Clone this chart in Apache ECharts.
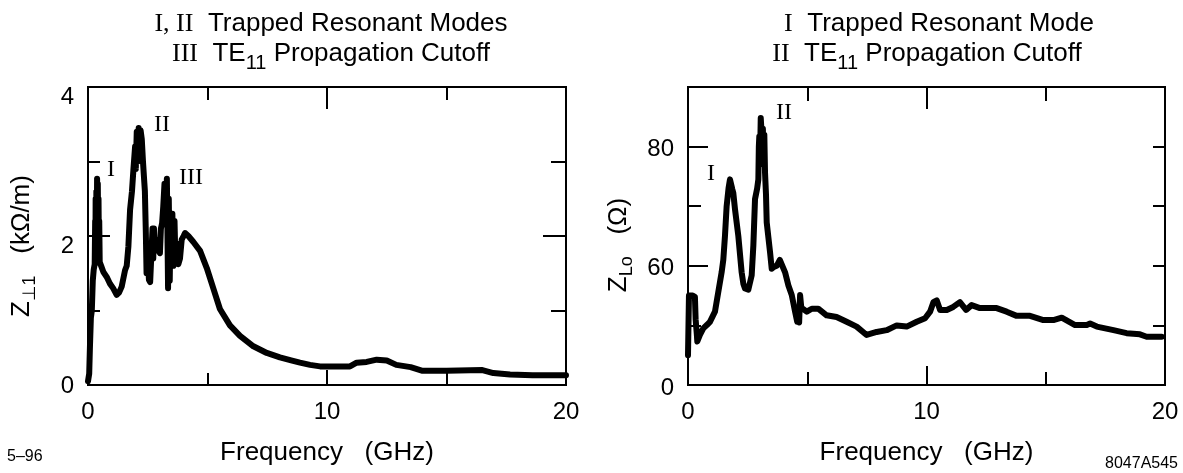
<!DOCTYPE html>
<html><head><meta charset="utf-8">
<script src="https://cdn.jsdelivr.net/npm/echarts@6/dist/echarts.min.js"></script>
<style>html,body{margin:0;padding:0;background:#fff}#c{width:1183px;height:473px}</style>
</head><body><div id="c"></div>
<script>
// Left panel: transverse impedance Z_perp1 (kOhm/m) vs frequency (GHz)
const freqT = [0.00,0.05,0.08,0.12,0.16,0.20,0.24,0.28,0.30,0.31,0.32,0.34,0.35,0.37,0.38,0.40,0.41,0.43,0.44,0.46,0.47,0.49,0.55,0.64,0.80,0.92,1.05,1.20,1.30,1.41,1.55,1.62,1.69,1.76,1.84,1.90,1.97,2.00,2.04,2.08,2.12,2.16,2.20,2.25,2.30,2.35,2.38,2.42,2.45,2.50,2.55,2.60,2.66,2.70,2.73,2.76,2.80,2.87,2.95,3.01,3.05,3.10,3.15,3.20,3.25,3.30,3.35,3.38,3.42,3.46,3.50,3.53,3.57,3.62,3.66,3.71,3.78,3.85,3.92,4.00,4.06,4.20,4.41,4.69,4.97,5.24,5.52,5.94,6.36,6.92,7.48,8.03,8.50,8.87,9.29,9.71,10.30,10.96,11.24,11.66,12.08,12.50,12.90,13.50,14.00,15.00,16.50,16.96,17.66,18.60,20.00];
const zT = [0.05,0.15,0.50,0.90,1.00,1.40,1.55,1.62,2.20,1.70,2.50,1.90,2.60,2.00,2.77,2.10,2.70,1.90,2.50,1.70,2.20,1.65,1.60,1.52,1.44,1.36,1.30,1.21,1.24,1.32,1.54,1.60,1.86,2.35,2.60,2.89,3.20,2.90,3.40,3.00,3.45,3.10,3.42,3.30,3.00,2.75,2.60,2.04,1.50,1.70,1.41,1.38,1.40,2.10,1.70,2.10,1.85,1.95,1.80,1.77,2.10,2.17,2.40,2.70,2.20,2.77,1.30,2.50,1.40,2.30,1.80,2.30,1.60,2.20,1.65,1.90,1.62,1.70,1.95,2.00,2.04,2.00,1.92,1.80,1.57,1.30,1.02,0.80,0.66,0.52,0.43,0.37,0.33,0.30,0.27,0.25,0.25,0.25,0.30,0.31,0.34,0.33,0.27,0.24,0.19,0.19,0.20,0.16,0.14,0.13,0.13];

// Right panel: longitudinal impedance Z_Lo (Ohm) vs frequency (GHz)
const freqL = [0.00,0.04,0.10,0.20,0.29,0.32,0.34,0.37,0.39,0.45,0.50,0.64,0.80,0.92,1.13,1.27,1.41,1.48,1.55,1.62,1.70,1.76,1.82,1.86,1.90,1.97,2.11,2.25,2.32,2.39,2.53,2.67,2.74,2.81,2.90,2.95,2.97,2.99,3.02,3.05,3.09,3.12,3.14,3.16,3.20,3.23,3.27,3.30,3.44,3.51,3.60,3.72,3.85,3.93,4.07,4.21,4.35,4.49,4.58,4.62,4.66,4.70,4.75,4.79,4.98,5.19,5.46,5.81,6.23,6.65,7.07,7.49,7.91,8.33,8.75,9.17,9.59,9.94,10.15,10.29,10.43,10.57,10.85,11.12,11.40,11.66,11.89,12.24,12.94,13.36,13.78,14.34,14.90,15.32,15.67,16.23,16.72,16.86,17.14,17.84,18.39,18.95,19.23,19.86];
const zL = [45.0,55.0,55.2,55.0,54.8,51.0,50.0,48.5,47.3,47.6,48.4,49.5,50.1,50.6,52.3,55.6,58.9,61.0,65.0,70.0,73.0,74.5,73.5,72.8,72.2,69.5,65.0,58.9,57.0,56.2,56.0,58.4,63.4,71.2,73.0,74.5,80.0,81.7,78.0,84.8,84.5,80.0,83.0,77.0,82.0,75.6,72.0,67.3,62.3,59.5,59.8,60.0,61.0,60.9,58.9,56.7,55.1,52.3,50.6,53.0,50.5,55.1,53.0,52.8,52.3,52.8,52.8,51.7,51.4,50.6,49.8,48.4,48.9,49.2,50.0,49.8,50.6,51.2,52.3,53.9,54.2,52.6,52.6,53.1,53.9,52.6,53.4,52.9,52.9,52.3,51.6,51.6,50.9,50.9,51.3,50.05,50.05,50.3,49.8,49.2,48.7,48.5,48.1,48.1];

// Tick labels
const yLabelsT = {0:'0', 2:'2', 4:'4'};
const yLabelsL = {40:'0', 60:'60', 80:'80'};

const SANS = 'Liberation Sans, Arial, DejaVu Sans';
const SERIF = 'Liberation Serif, Times New Roman, DejaVu Serif';
const richBase = {
  r: {fontFamily: SERIF, fontSize: 26, color: '#000', verticalAlign: 'top'},
  s: {fontFamily: SANS, fontSize: 26, color: '#000', verticalAlign: 'top'},
  sub: {fontFamily: SANS, fontSize: 20, color: '#000', verticalAlign: 'top', padding: [12, 0, 0, 0]},
  z: {fontFamily: SANS, fontSize: 26, color: '#000', verticalAlign: 'top'},
  zs: {fontFamily: 'Liberation Sans, DejaVu Sans', fontSize: 18, color: '#000', verticalAlign: 'top', padding: [12, 0, 0, 0]}
};

const chart = echarts.init(document.getElementById('c'), null, {renderer: 'canvas'});

function xAx(grid, pos, show, major, minor) {
  return {
    type: 'value', gridIndex: grid, position: pos, min: 0, max: 20, interval: 10,
    axisLine: {show: false, onZero: false},
    axisTick: {show: true, inside: true, length: major, lineStyle: {color: '#000', width: 2}},
    minorTick: {show: true, splitNumber: 2, length: minor, lineStyle: {color: '#000', width: 2}},
    splitLine: {show: false}, minorSplitLine: {show: false},
    axisLabel: {show: show, color: '#000', fontSize: 24, fontFamily: SANS, margin: 15},
    name: show ? 'Frequency   (GHz)' : '', nameLocation: 'middle', nameGap: 55,
    nameTextStyle: {color: '#000', fontSize: 26, fontFamily: SANS}
  };
}
function yAx(grid, pos, min, max, interval, major, minorSplit, minor, labelFn) {
  return {
    type: 'value', gridIndex: grid, position: pos, offset: 0, min: min, max: max, interval: interval,
    axisLine: {show: false, onZero: false},
    axisTick: {show: true, inside: true, length: major, lineStyle: {color: '#000', width: 2}},
    minorTick: {show: minorSplit > 0, splitNumber: minorSplit || 5, length: minor, lineStyle: {color: '#000', width: 2}},
    splitLine: {show: false}, minorSplitLine: {show: false},
    axisLabel: labelFn ? {show: true, color: '#000', fontSize: 24, fontFamily: SANS, margin: 14, formatter: labelFn,
      rich: {a: {fontSize: 24, fontFamily: SANS, color: '#000', padding: [20, 0, 0, 0]},
             b: {fontSize: 24, fontFamily: SANS, color: '#000', padding: [3, 0, 0, 0]},
             c: {fontSize: 24, fontFamily: SANS, color: '#000', padding: [6, 0, 0, 0]}}} : {show: false}
  };
}

const option = {
  animation: false,
  backgroundColor: '#fff',
  grid: [
    {left: 88, top: 87, width: 478, height: 298, show: true, borderColor: '#000', borderWidth: 2, backgroundColor: 'transparent', outerBoundsMode: 'none', containLabel: false},
    {left: 688, top: 87, width: 477, height: 298, show: true, borderColor: '#000', borderWidth: 2, backgroundColor: 'transparent', outerBoundsMode: 'none', containLabel: false}
  ],
  xAxis: [
    xAx(0, 'bottom', true, 15, 12),
    xAx(0, 'top', false, 22, 13),
    xAx(1, 'bottom', true, 19, 13),
    xAx(1, 'top', false, 22, 14)
  ],
  yAxis: [
    yAx(0, 'left', 0, 4, 2, 22, 2, 12, v => v === 0 ? '{b|' + yLabelsT[v] + '}' : '{a|' + (yLabelsT[v] || '') + '}'),
    yAx(0, 'right', 0, 4, 2, 23, 2, 15, null),
    yAx(1, 'left', 40, 90, 20, 20, 0, 0, v => yLabelsL[v] ? '{c|' + yLabelsL[v] + '}' : ''),
    yAx(1, 'left', 40, 90, 10, 13, 0, 0, null),
    yAx(1, 'right', 40, 90, 10, 12, 0, 0, null)
  ],
  series: [
    {type: 'line', xAxisIndex: 0, yAxisIndex: 0, data: freqT.map((f, i) => [f, zT[i]]), showSymbol: false, symbol: 'none',
     lineStyle: {color: '#000', width: 6, join: 'round', cap: 'round'}},
    {type: 'line', xAxisIndex: 2, yAxisIndex: 2, data: freqL.map((f, i) => [f, zL[i]]), showSymbol: false, symbol: 'none',
     lineStyle: {color: '#000', width: 6, join: 'round', cap: 'round'}}
  ],
  graphic: [
    // Titles
    {type: 'text', x: 331, y: 24, style: {text: '{r|I, II}{s|  Trapped Resonant Modes}', rich: richBase, align: 'center', verticalAlign: 'middle'}},
    {type: 'text', x: 331, y: 57, style: {text: '{r|III}{s|  TE}{sub|11}{s| Propagation Cutoff}', rich: richBase, align: 'center', verticalAlign: 'middle'}},
    {type: 'text', x: 939, y: 24, style: {text: '{r|I}{s|  Trapped Resonant Mode}', rich: richBase, align: 'center', verticalAlign: 'middle'}},
    {type: 'text', x: 927, y: 57, style: {text: '{r|II}{s|  TE}{sub|11}{s| Propagation Cutoff}', rich: richBase, align: 'center', verticalAlign: 'middle'}},
    // Peak markers
    {type: 'text', x: 111, y: 170, style: {text: 'I', font: '24px ' + SERIF, fill: '#000', align: 'center', verticalAlign: 'middle'}},
    {type: 'text', x: 162, y: 125, style: {text: 'II', font: '24px ' + SERIF, fill: '#000', align: 'center', verticalAlign: 'middle'}},
    {type: 'text', x: 191, y: 178, style: {text: 'III', font: '24px ' + SERIF, fill: '#000', align: 'center', verticalAlign: 'middle'}},
    {type: 'text', x: 711, y: 174, style: {text: 'I', font: '24px ' + SERIF, fill: '#000', align: 'center', verticalAlign: 'middle'}},
    {type: 'text', x: 784, y: 113, style: {text: 'II', font: '24px ' + SERIF, fill: '#000', align: 'center', verticalAlign: 'middle'}},
    // Y axis names (rotated)
    {type: 'text', x: 24, y: 246, rotation: Math.PI / 2, style: {text: '{z|Z}{zs|⊥1}{s|   (kΩ/m)}', rich: richBase, align: 'center', verticalAlign: 'middle'}},
    {type: 'text', x: 621, y: 245, rotation: Math.PI / 2, style: {text: '{z|Z}{zs|Lo}{s|   (Ω)}', rich: richBase, align: 'center', verticalAlign: 'middle'}},
    // Figure codes
    {type: 'text', x: 7, y: 457, style: {text: '5–96', font: '16px ' + SANS, fill: '#000', align: 'left', verticalAlign: 'middle'}},
    {type: 'text', x: 1178, y: 464, style: {text: '8047A545', font: '16px ' + SANS, fill: '#000', align: 'right', verticalAlign: 'middle'}}
  ]
};
chart.setOption(option);
</script></body></html>
